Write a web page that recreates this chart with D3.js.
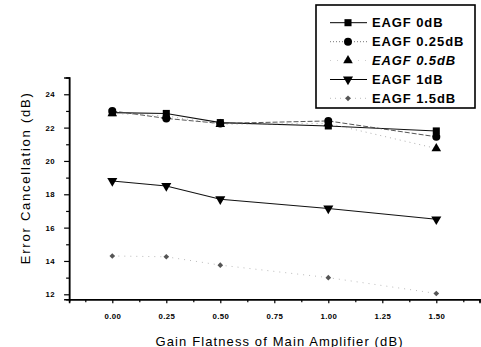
<!DOCTYPE html>
<html>
<head>
<meta charset="utf-8">
<script src="https://cdn.jsdelivr.net/npm/d3@7"></script>
<style>
html,body{margin:0;padding:0;background:#fff;}
svg{display:block;font-family:"Liberation Sans",Arial,Helvetica,sans-serif;}
</style>
</head>
<body>
<svg id="chart" width="481" height="347"></svg>
<script>
const xValues = [0, 0.25, 0.5, 1.0, 1.5];
const eagf0   = [22.9, 22.85, 22.3, 22.1, 21.8];
const eagf025 = [23.0, 22.55, 22.25, 22.4, 21.45];
const eagf05  = [22.85, 22.7, 22.2, 22.25, 20.75];
const eagf1   = [18.8, 18.5, 17.7, 17.15, 16.5];
const eagf15  = [14.3, 14.25, 13.75, 13.0, 12.05];
const seriesNames = ["EAGF 0dB", "EAGF 0.25dB", "EAGF 0.5dB", "EAGF 1dB", "EAGF 1.5dB"];
const xTickValues = [0, 0.25, 0.5, 0.75, 1.0, 1.25, 1.5];
const xTickLabels = ["0.00", "0.25", "0.50", "0.75", "1.00", "1.25", "1.50"];
const yTickValues = [12, 14, 16, 18, 20, 22, 24];
const xTitle = "Gain Flatness of Main Amplifier (dB)";
const yTitle = "Error Cancellation (dB)";

const svg = d3.select("#chart");
const x = d3.scaleLinear().domain([-0.2, 1.7]).range([69.1, 479.5]);
const y = d3.scaleLinear().domain([11.7, 25]).range([299.3, 77.6]);

const styles = [
  {symbol: d3.symbolSquare, size: 50, fill: "#000", stroke: "#111", width: 1.1, dash: null, italic: false},
  {symbol: d3.symbolCircle, size: 50, fill: "#000", stroke: "#444", width: 0.9, dash: "5,2", italic: false},
  {symbol: d3.symbolTriangle, size: 40, fill: "#000", stroke: "#999", width: 0.8, dash: "1,4", italic: true},
  {symbol: d3.symbolTriangle, size: 44, fill: "#000", stroke: "#111", width: 1.1, dash: null, italic: false, rot: 180},
  {symbol: d3.symbolSquare, size: 16, fill: "#555", stroke: "#aaa", width: 0.8, dash: "1,5", italic: false, rot: 45}
];
const allSeries = [eagf0, eagf025, eagf05, eagf1, eagf15];

// axes
const xAxis = d3.axisBottom(x).tickValues(xTickValues)
  .tickFormat((d, i) => xTickLabels[i]).tickSize(4).tickPadding(10);
const xMinor = d3.axisBottom(x).tickValues(d3.range(-0.125, 1.7, 0.25)).tickFormat("").tickSize(3);
const yAxis = d3.axisLeft(y).tickValues(yTickValues).tickSize(5).tickPadding(9);
const yMinor = d3.axisLeft(y).tickValues(d3.range(13, 25, 2)).tickFormat("").tickSize(3);

function styleAxis(g) {
  g.select(".domain").attr("stroke", "#000").attr("stroke-width", 1.5);
  g.selectAll(".tick line").attr("stroke", "#000").attr("stroke-width", 1.2);
  g.selectAll("text").attr("font-size", 7.8).attr("font-weight", "bold")
    .attr("letter-spacing", 0.4).attr("fill", "#000").attr("font-family", "Liberation Sans, Arial, sans-serif");
}
svg.append("g").attr("transform", `translate(0,${y(11.7)})`).call(xMinor).call(styleAxis);
svg.append("g").attr("transform", `translate(0,${y(11.7)})`).call(xAxis).call(styleAxis);
svg.append("g").attr("transform", `translate(${x(-0.2)},0)`).call(yMinor).call(styleAxis);
svg.append("g").attr("transform", `translate(${x(-0.2)},0)`).call(yAxis).call(styleAxis);

// titles
svg.append("text").attr("x", 279).attr("y", 345.5).attr("text-anchor", "middle")
  .attr("font-size", 13).attr("textLength", 247).attr("lengthAdjust", "spacing")
  .attr("fill", "#000").text(xTitle);
svg.append("text").attr("transform", "translate(30,178.7) rotate(-90)").attr("text-anchor", "middle")
  .attr("font-size", 13).attr("textLength", 171).attr("lengthAdjust", "spacing")
  .attr("fill", "#000").text(yTitle);

// lines and markers
const line = d3.line().x((d, i) => x(xValues[i])).y(d => y(d));
allSeries.forEach((vals, si) => {
  const st = styles[si];
  svg.append("path").datum(vals).attr("d", line).attr("fill", "none")
    .attr("stroke", st.stroke).attr("stroke-width", st.width)
    .attr("stroke-dasharray", st.dash);
});
[4, 3, 2, 1, 0].forEach(si => {
  const st = styles[si];
  svg.append("g").selectAll("path").data(allSeries[si]).join("path")
    .attr("d", d3.symbol().type(st.symbol).size(st.size))
    .attr("transform", (d, i) => `translate(${x(xValues[i])},${y(d)}) rotate(${st.rot || 0})`)
    .attr("fill", st.fill);
});

// legend
const lg = svg.append("g");
lg.append("rect").attr("x", 316).attr("y", 5).attr("width", 159).attr("height", 103)
  .attr("fill", "#fff").attr("stroke", "#000").attr("stroke-width", 1.6);
const rowY = [22.7, 41.7, 60.5, 79.5, 98.3];
const legLineStyle = [
  {dash: null, stroke: "#000"}, {dash: "1,2", stroke: "#777"}, {dash: "1,6", stroke: "#ccc"},
  {dash: null, stroke: "#000"}, {dash: "1,4", stroke: "#bbb"}
];
seriesNames.forEach((name, i) => {
  const st = styles[i];
  lg.append("line").attr("x1", 330).attr("x2", 367).attr("y1", rowY[i]).attr("y2", rowY[i])
    .attr("stroke", legLineStyle[i].stroke).attr("stroke-width", 1)
    .attr("stroke-dasharray", legLineStyle[i].dash);
  lg.append("path").attr("d", d3.symbol().type(st.symbol).size(st.size)())
    .attr("transform", `translate(348,${rowY[i]}) rotate(${st.rot || 0})`).attr("fill", st.fill);
  lg.append("text").attr("x", 372).attr("y", rowY[i] + 4.7).attr("font-size", 13)
    .attr("font-weight", "bold").attr("letter-spacing", 0.9)
    .attr("font-style", st.italic ? "italic" : "normal").attr("fill", "#000").text(name);
});
</script>
</body>
</html>
